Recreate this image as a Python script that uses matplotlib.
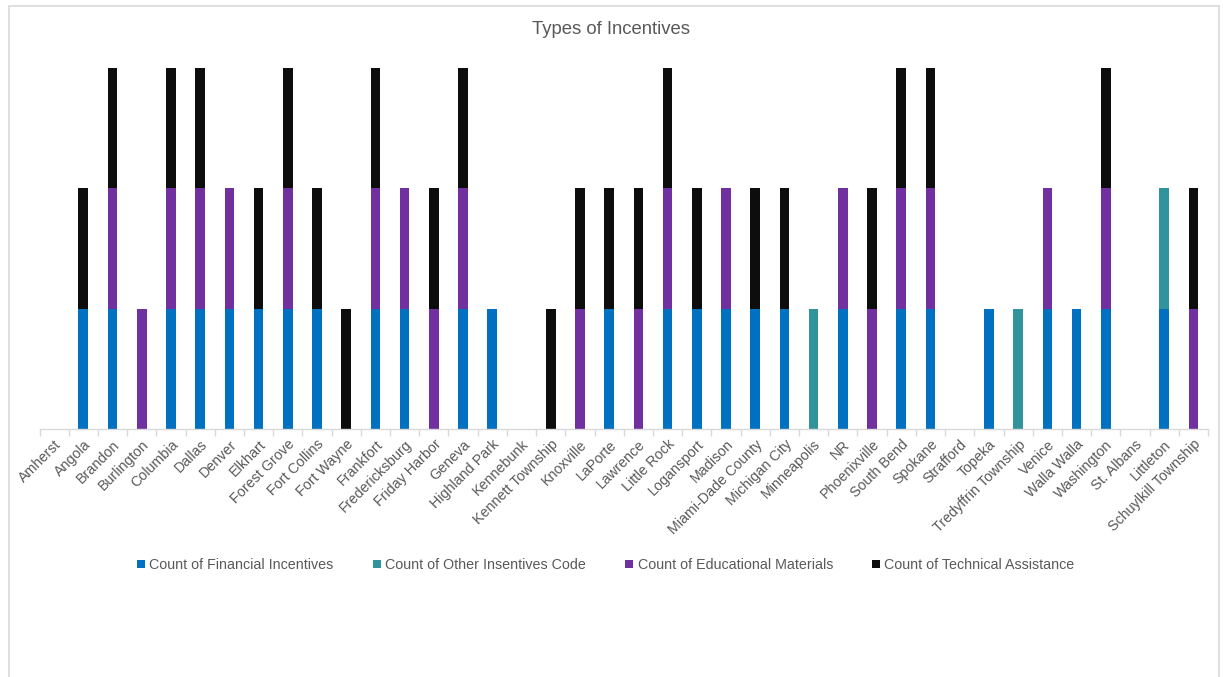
import matplotlib
matplotlib.use("Agg")
import matplotlib.pyplot as plt
from matplotlib.patches import Rectangle
import numpy as np

plt.rcParams["font.family"] = ["Liberation Sans", "DejaVu Sans"]

cities = ["Amherst", "Angola", "Brandon", "Burlington", "Columbia", "Dallas",
          "Denver", "Elkhart", "Forest Grove", "Fort Collins", "Fort Wayne",
          "Frankfort", "Fredericksburg", "Friday Harbor", "Geneva",
          "Highland Park", "Kennebunk", "Kennett Township", "Knoxville",
          "LaPorte", "Lawrence", "Little Rock", "Logansport", "Madison",
          "Miami-Dade County", "Michigan City", "Minneapolis", "NR",
          "Phoenixville", "South Bend", "Spokane", "Strafford", "Topeka",
          "Tredyffrin Township", "Venice", "Walla Walla", "Washington",
          "St. Albans", "Littleton", "Schuylkill Township"]

financial = [0, 1, 1, 0, 1, 1, 1, 1, 1, 1, 0, 1, 1, 0, 1, 1, 0, 0, 0, 1,
             0, 1, 1, 1, 1, 1, 0, 1, 0, 1, 1, 0, 1, 0, 1, 1, 1, 0, 1, 0]
other = [0, 0, 0, 0, 0, 0, 0, 0, 0, 0, 0, 0, 0, 0, 0, 0, 0, 0, 0, 0,
         0, 0, 0, 0, 0, 0, 1, 0, 0, 0, 0, 0, 0, 1, 0, 0, 0, 0, 1, 0]
educational = [0, 0, 1, 1, 1, 1, 1, 0, 1, 0, 0, 1, 1, 1, 1, 0, 0, 0, 1, 0,
               1, 1, 0, 1, 0, 0, 0, 1, 1, 1, 1, 0, 0, 0, 1, 0, 1, 0, 0, 1]
technical = [0, 1, 1, 0, 1, 1, 0, 1, 1, 1, 1, 1, 0, 1, 1, 0, 0, 1, 1, 1,
             1, 1, 1, 0, 1, 1, 0, 0, 1, 1, 1, 0, 0, 0, 0, 0, 1, 0, 0, 1]

series = [
    ("Count of Financial Incentives", financial, "#0070C0"),
    ("Count of Other Insentives Code", other, "#31949C"),
    ("Count of Educational Materials", educational, "#7030A0"),
    ("Count of Technical Assistance", technical, "#0D0D0D"),
]

W, H = 1223, 677
fig = plt.figure(figsize=(W / 100, H / 100), dpi=100)
ax = fig.add_axes([39.5 / W, 1 - 429 / H, (1208 - 39.5) / W, (429 - 68) / H])

x = np.arange(len(cities))
bottom = np.zeros(len(cities))
handles = []
for name, vals, col in series:
    vals = np.array(vals, dtype=float)
    b = ax.bar(x, vals, 0.33, bottom=bottom, color=col, label=name,
               linewidth=0)
    handles.append(b)
    bottom += vals

ax.set_xlim(-0.5, len(cities) - 0.5)
ax.set_ylim(0, 3)
ax.set_yticks([])
for s in ["top", "right", "left"]:
    ax.spines[s].set_visible(False)
ax.spines["bottom"].set_color("#d9d9d9")
ax.spines["bottom"].set_linewidth(1.0)

ax.set_xticks(x)
ax.set_xticklabels(cities, rotation=45, ha="right", rotation_mode="anchor",
                   fontsize=10.3, color="#595959")
ax.tick_params(axis="x", length=0, pad=6)
ax.set_xticks(np.arange(len(cities) + 1) - 0.5, minor=True)
ax.tick_params(axis="x", which="minor", length=5, color="#d9d9d9", width=1)

fig.text(0.5, 1 - 29 / H, "Types of Incentives", ha="center", va="center",
         fontsize=13.3, color="#595959")

leg = fig.legend(handles=handles, loc="center", ncol=4,
                 bbox_to_anchor=(606 / W, 1 - 565 / H), frameon=False,
                 fontsize=10.3, handlelength=0.55, handleheight=0.55,
                 handletextpad=0.3, columnspacing=2.75)
for t in leg.get_texts():
    t.set_color("#595959")

# chart-area border
fig.patches.append(Rectangle((8.5 / W, -0.05), (1219 - 8.5) / W, 1.05 - 5.5 / H,
                             transform=fig.transFigure, fill=False,
                             edgecolor="#d9d9d9", linewidth=1.2))

fig.savefig("out.png", dpi=100)
